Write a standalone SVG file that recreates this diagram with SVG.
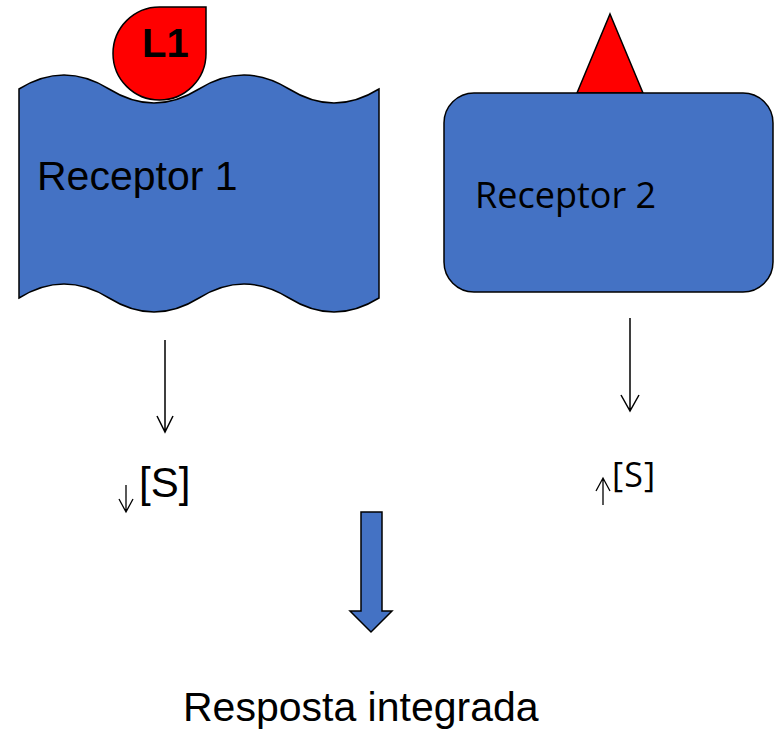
<svg xmlns="http://www.w3.org/2000/svg" width="774" height="730" viewBox="0 0 774 730">
  <defs>
    <style>
      .shape { fill: #4472C4; stroke: #000; stroke-width: 1.5; }
      .lig { fill: #FF0000; stroke: #000; stroke-width: 1.5; }
      .conn { fill: none; stroke: #000; stroke-width: 1.5; }
      .sym { fill: none; stroke: #000; stroke-width: 1.3; }
      .arial { font-family: "Liberation Sans", Arial, sans-serif; fill: #000; }
      .cal { font-family: "Open Sans", "Liberation Sans", sans-serif; fill: #000; }
    </style>
  </defs>
  <rect width="774" height="730" fill="#fff"/>

  <g id="receptor1">
    <path class="shape" d="M19,89 Q64,61 109,89 T199,89 T289,89 T379,89 L379,298 Q334,326 289,298 T199,298 T109,298 T19,298 Z"/>
    <text class="arial" x="37" y="190" font-size="41">Receptor 1</text>
  </g>

  <g id="ligand1">
    <path class="lig" d="M159.5,7 L206,7 L206,53.5 A46.5,46.5 0 1 1 159.5,7 Z"/>
    <text class="arial" x="142" y="57" font-size="40" font-weight="bold">L1</text>
  </g>

  <g id="ligand2">
    <polygon class="lig" points="610,14 643,93 577,93"/>
  </g>

  <g id="receptor2">
    <rect class="shape" x="444" y="93" width="329" height="199" rx="30" ry="30"/>
    <text class="cal" x="475" y="208" font-size="36">Receptor 2</text>
  </g>

  <g id="connectors">
    <path class="conn" d="M165,340 V432 M157,416 L165,432 L173,416"/>
    <path class="conn" d="M630,318 V411 M621,395 L630,411 L639,395"/>
    <path d="M361,512 H382 V611 H392 L371,632 L350,611 H361 Z" fill="#4472C4" stroke="#000" stroke-width="1.5"/>
  </g>

  <g id="s1">
    <path class="sym" d="M126,485 V512 M119,499 L126,512 L133,499"/>
    <text class="arial" x="139" y="497" font-size="42">[S]</text>
  </g>

  <g id="s2">
    <path class="sym" d="M603,505 V478 M596,491 L603,478 L610,491"/>
    <text class="cal" x="612" y="487" font-size="34" textLength="43" lengthAdjust="spacing">[S]</text>
  </g>

  <g id="response">
    <text class="arial" x="183" y="721" font-size="41">Resposta integrada</text>
  </g>
</svg>
